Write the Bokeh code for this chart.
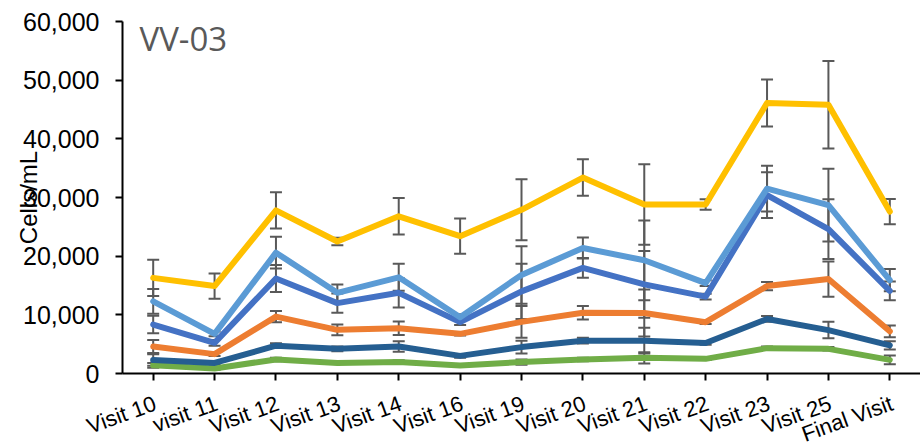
import math
from bokeh.plotting import figure
from bokeh.models import (FactorRange, Range1d, FixedTicker, NumeralTickFormatter, Label,
                          ColumnDataSource, CustomLabelingPolicy)
from bokeh.core.properties import value
from bokeh.embed import file_html
from bokeh.resources import INLINE

cats = ["Visit 10", "visit 11", "Visit 12", "Visit 13", "Visit 14", "Visit 16", "Visit 19",
        "Visit 20", "Visit 21", "Visit 22", "Visit 23", "Visit 25", "Final Visit"]

yellow = [16300, 14900, 27800, 22500, 26800, 23400, 27900, 33400, 28800, 28800, 46100, 45800, 27600]
yellow_err = [3100, 2150, 3100, 650, 3100, 3000, 5200, 3100, 6850, 900, 4000, 7450, 2150]
lightblue = [12300, 6760, 20600, 13750, 16400, 9600, 16800, 21400, 19300, 15400, 31500, 28700, 15900]
lightblue_err = [2100, 400, 2700, 1400, 2300, 500, 4900, 1800, 6800, 500, 3900, 6200, 1900]
blue = [8350, 5230, 16200, 12000, 13750, 8750, 14000, 18000, 15200, 13100, 30400, 24600, 14100]
blue_err = [1500, 500, 2300, 1650, 2500, 500, 4700, 1700, 5700, 500, 3900, 5100, 1600]
orange = [4600, 3300, 9700, 7440, 7700, 6760, 8800, 10340, 10300, 8750, 14900, 16100, 7200]
orange_err = [1100, 300, 950, 900, 1150, 300, 2700, 1150, 4000, 300, 700, 3000, 1000]
darkblue = [2300, 1800, 4750, 4200, 4600, 3000, 4500, 5600, 5600, 5200, 9300, 7400, 4800]
darkblue_err = [1000, 300, 400, 400, 900, 300, 1100, 500, 2200, 300, 500, 1400, 700]
green = [1400, 850, 2400, 1800, 1950, 1360, 1950, 2400, 2670, 2500, 4320, 4200, 2330]
green_err = [400, 200, 300, 200, 300, 200, 450, 300, 950, 200, 300, 300, 750]

y_ticks = [0, 10000, 20000, 30000, 40000, 50000, 60000]

series = [
    (green, green_err, "#70AD47"),
    (darkblue, darkblue_err, "#255E91"),
    (orange, orange_err, "#ED7D31"),
    (blue, blue_err, "#4472C4"),
    (lightblue, lightblue_err, "#5B9BD5"),
    (yellow, yellow_err, "#FFC000"),
]

W = 920
LEFT = 122
MAIN_H = 392
LAB_H = 448 - MAIN_H

p = figure(width=W, height=MAIN_H, x_range=FactorRange(factors=cats),
           y_range=Range1d(0, 60000), output_backend="svg", toolbar_location=None,
           min_border_left=LEFT, min_border_right=0, min_border_top=21,
           min_border_bottom=MAIN_H - 373)
p.outline_line_color = None
p.xgrid.grid_line_color = None
p.ygrid.grid_line_color = None
p.background_fill_color = "white"
p.border_fill_color = "white"

# error bars first
err_color = "#595959"
for vals, errs, col in series:
    lo = [v - e for v, e in zip(vals, errs)]
    hi = [v + e for v, e in zip(vals, errs)]
    src = ColumnDataSource(dict(x=cats, lo=lo, hi=hi))
    p.segment(x0="x", y0="lo", x1="x", y1="hi", source=src, line_color=err_color, line_width=2)
    p.scatter(x="x", y="lo", source=src, marker="dash", size=12, line_color=err_color, line_width=2)
    p.scatter(x="x", y="hi", source=src, marker="dash", size=12, line_color=err_color, line_width=2)

for vals, errs, col in series:
    p.line(x=cats, y=vals, line_color=col, line_width=6, line_join="round", line_cap="round")

# axes
for ax in (p.xaxis[0], p.yaxis[0]):
    ax.axis_line_color = "black"
    ax.axis_line_width = 2
    ax.major_tick_line_color = "black"
    ax.major_tick_line_width = 2
    ax.major_tick_in = 0
    ax.major_tick_out = 7
    ax.minor_tick_line_color = None
    ax.major_label_text_color = "black"
    ax.major_label_text_font = "Liberation Sans"

# x tick labels are drawn in the strip below (rotated), so the axis itself shows none
p.xaxis[0].major_label_text_font_size = "1px"
p.xaxis[0].major_label_standoff = 0
p.xaxis[0].major_label_policy = CustomLabelingPolicy(code="return new Set()")

p.yaxis[0].ticker = FixedTicker(ticks=y_ticks)
p.yaxis[0].formatter = NumeralTickFormatter(format="0,0")
p.yaxis[0].major_label_text_font_size = "25px"
p.yaxis[0].major_label_standoff = 16
p.yaxis[0].axis_label = "Cells/mL"
p.yaxis[0].axis_label_text_font = "Liberation Sans"
p.yaxis[0].axis_label_text_font_size = "24px"
p.yaxis[0].axis_label_text_font_style = "normal"
p.yaxis[0].axis_label_text_color = "black"
p.yaxis[0].axis_label_standoff = -22

p.add_layout(Label(x=17, y=335, x_units="screen", y_units="screen", text="VV-03",
                   text_align="left", text_baseline="alphabetic",
                   text_font="Open Sans", text_font_size="33px", text_color="#595959"))

# category labels strip below the plot, aligned with the main x scale
step = (W - LEFT) / len(cats)
lab = figure(width=W, height=LAB_H,
             x_range=Range1d(-0.5 - LEFT / step, len(cats) - 0.5),
             y_range=Range1d(0, LAB_H), output_backend="svg", toolbar_location=None,
             x_axis_type=None, y_axis_type=None,
             min_border_left=0, min_border_right=0, min_border_top=0, min_border_bottom=0)
lab.outline_line_color = None
lab.xgrid.grid_line_color = None
lab.ygrid.grid_line_color = None
lab.background_fill_color = "white"
lab.border_fill_color = "white"
lab.text(x=list(range(len(cats))), y=[448 - 402] * len(cats), text=cats,
         angle=math.radians(20), text_align="right", text_baseline="middle",
         x_offset=2, text_font=value("Liberation Sans"), text_font_size=value("22px"),
         text_color="black")

open("out.html", "w").write(file_html([p, lab], INLINE))
